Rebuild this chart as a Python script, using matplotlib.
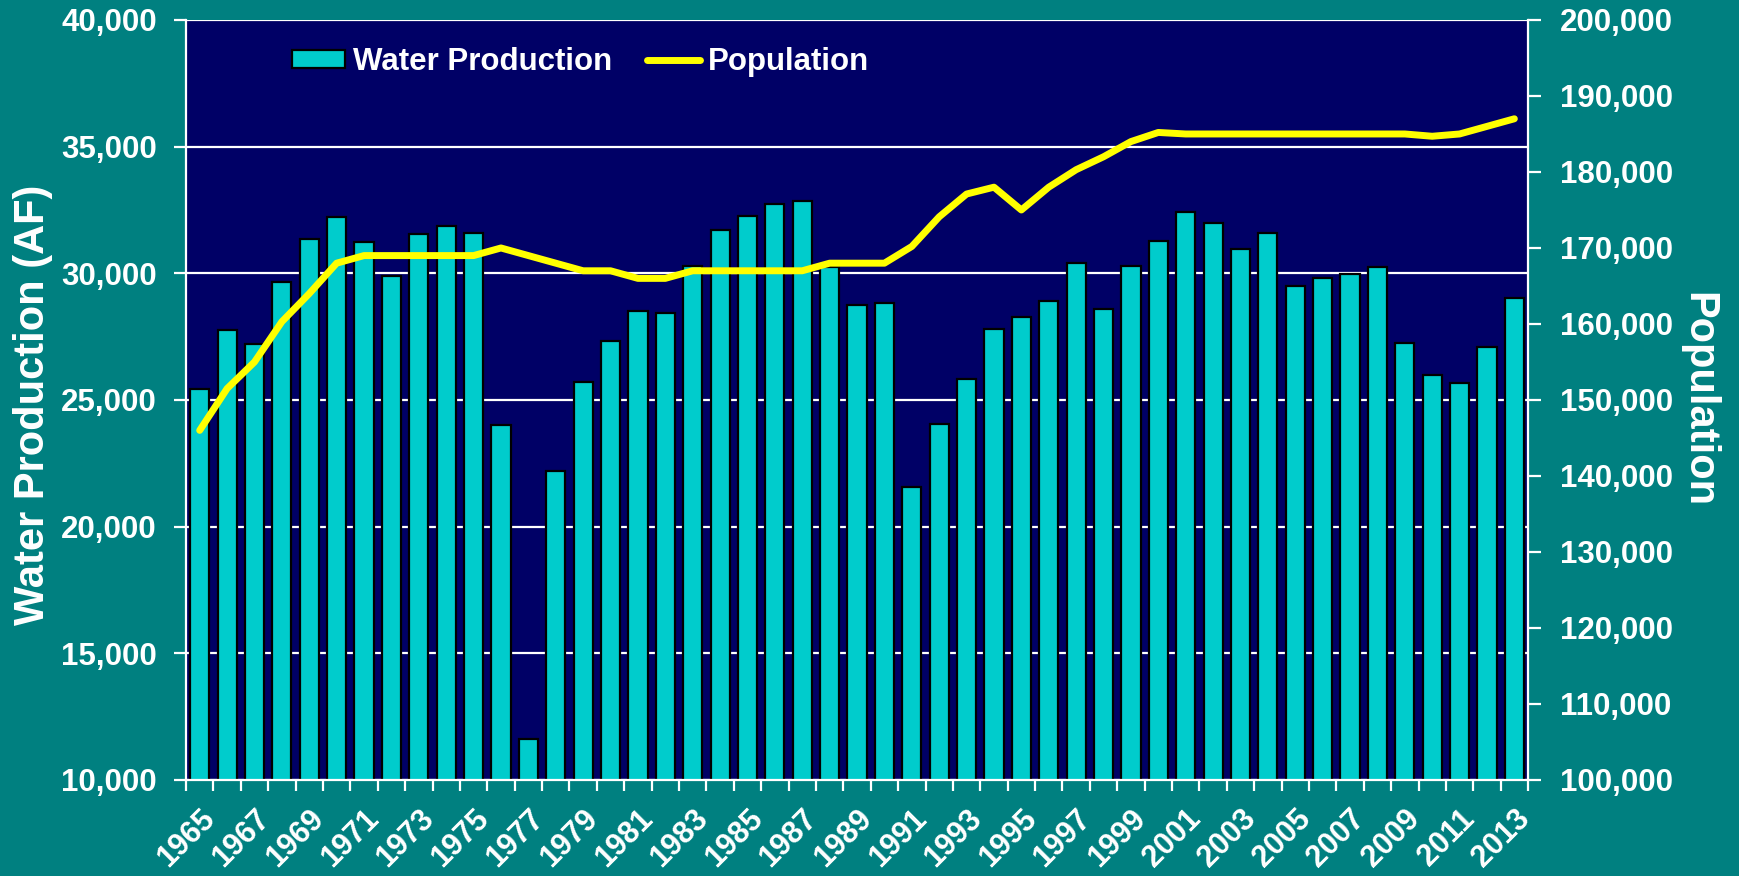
import matplotlib
matplotlib.use("Agg")
from matplotlib import pyplot as plt
from matplotlib.ticker import FuncFormatter, MultipleLocator

plt.rcParams['font.family'] = ['Liberation Sans', 'DejaVu Sans']
plt.rcParams['font.weight'] = 'bold'

years = list(range(1965, 2014))

water_af = [25430, 27760, 27210, 29650, 31360, 32220, 31220, 29910, 31570, 31880,
            31580, 24030, 11630, 22210, 25720, 27340, 28510, 28420, 30290, 31710,
            32280, 32750, 32870, 30260, 28750, 28840, 21580, 24040, 25820, 27820,
            28280, 28920, 30410, 28590, 30290, 31290, 32410, 31970, 30960, 31590,
            29490, 29830, 29960, 30240, 27250, 25970, 25670, 27090, 29040]

population = [146000, 151500, 155000, 160300, 164000, 168000, 169000, 169000, 169000, 169000,
              169000, 170000, 169000, 168000, 167000, 167000, 166000, 166000, 167000, 167000,
              167000, 167000, 167000, 168000, 168000, 168000, 170200, 174100, 177100, 178000,
              175000, 178000, 180300, 182000, 184000, 185200, 185000, 185000, 185000, 185000,
              185000, 185000, 185000, 185000, 185000, 184700, 185000, 186000, 187000]

teal = '#008080'
navy = '#000066'
cyan = '#00CCCC'
yellow = '#FFFF00'

fig = plt.figure(figsize=(17.4, 8.76), dpi=100, facecolor=teal)
ax = fig.add_axes([0.1069, 0.1096, 0.7713, 0.8676])
ax.set_facecolor(navy)

x = list(range(len(years)))

# bars
bars = ax.bar(x, water_af, width=0.7, color=cyan, edgecolor='black', linewidth=1.6,
              zorder=2, label='Water Production')
ax.set_xlim(-0.5, len(years) - 0.5)
ax.set_ylim(10000, 40000)
ax.yaxis.set_major_locator(MultipleLocator(5000))
ax.yaxis.set_major_formatter(FuncFormatter(lambda v, p: f'{int(v):,}'))
ax.set_axisbelow(True)
ax.yaxis.grid(True, color='white', linewidth=1.6, zorder=0)

# x ticks: labels at centres (every other year), tick marks at boundaries
ax.set_xticks(x)
ax.set_xticklabels([str(y) if i % 2 == 0 else '' for i, y in enumerate(years)],
                   rotation=45, ha='right', va='top', rotation_mode='anchor',
                   fontsize=22, fontweight='bold', color='white')
ax.tick_params(axis='x', which='major', length=0, pad=17)
ax.set_xticks([i - 0.5 for i in range(len(years) + 1)], minor=True)
ax.tick_params(axis='x', which='minor', length=8, width=1.6, color='white', direction='out')

ax.tick_params(axis='y', length=9, width=1.6, color='white', direction='out', pad=12,
               labelsize=22.5, labelcolor='white')
for s in ['top', 'right']:
    ax.spines[s].set_visible(False)
for s in ['left', 'bottom']:
    ax.spines[s].set_color('white')
    ax.spines[s].set_linewidth(1.6)

# population on right axis
ax2 = ax.twinx()
line, = ax2.plot(x, population, color=yellow, linewidth=5, solid_capstyle='round',
                 solid_joinstyle='round', label='Population', zorder=3)
ax2.set_ylim(100000, 200000)
ax2.yaxis.set_major_locator(MultipleLocator(10000))
ax2.yaxis.set_major_formatter(FuncFormatter(lambda v, p: f'{int(v):,}'))
ax2.tick_params(axis='y', length=9, width=1.6, color='white', direction='out', pad=14,
                labelsize=22.5, labelcolor='white')
for s in ['top', 'left', 'bottom']:
    ax2.spines[s].set_visible(False)
ax2.spines['right'].set_color('white')
ax2.spines['right'].set_linewidth(1.6)

fig.text(33 / 1740, 1 - 405 / 876, 'Water Production (AF)', rotation=90, ha='center', va='center',
         fontsize=30, fontweight='bold', color='white')
fig.text(1698 / 1740, 1 - 400 / 876, 'Population', rotation=-90, ha='center', va='center',
         fontsize=30, fontweight='bold', color='white')

leg = ax2.legend([bars, line], ['Water Production', 'Population'], ncol=2,
                 loc='center left', bbox_to_anchor=(292 / 1740, 1 - 62 / 876),
                 bbox_transform=fig.transFigure, frameon=False, fontsize=22.5,
                 handlelength=1.7, handleheight=0.55, handletextpad=0.25,
                 columnspacing=1.1, borderpad=0, borderaxespad=0)
for t in leg.get_texts():
    t.set_color('white')
    t.set_fontweight('bold')

fig.savefig('out.png', dpi=100, facecolor=teal)
